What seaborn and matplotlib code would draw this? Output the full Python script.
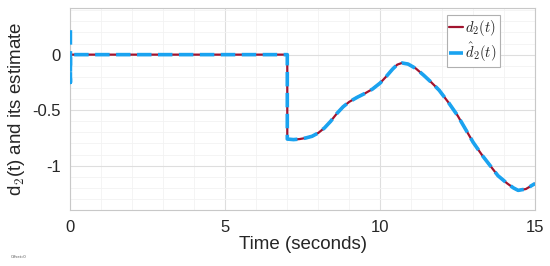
import matplotlib
matplotlib.use('Agg')
import matplotlib.pyplot as plt
import seaborn as sns
import pandas as pd
from matplotlib.ticker import MultipleLocator

# d2(t): zero until t=7, then a step and a smooth curve
t_vals = [0.0, 7.0, 7.0, 7.2, 7.4, 7.6, 7.8, 8.0, 8.2, 8.4, 8.6, 8.8, 9.0, 9.25, 9.5,
          9.75, 10.0, 10.2, 10.4, 10.55, 10.7, 10.9, 11.15, 11.4, 11.65, 11.9, 12.2,
          12.5, 12.75, 13.0, 13.3, 13.55, 13.8, 14.1, 14.3, 14.45, 14.7, 15.0]
d2_vals = [0.0, 0.0, -0.76, -0.765, -0.76, -0.75, -0.735, -0.705, -0.66, -0.6, -0.53,
           -0.47, -0.425, -0.385, -0.35, -0.31, -0.255, -0.195, -0.13, -0.09, -0.075,
           -0.085, -0.125, -0.185, -0.25, -0.32, -0.43, -0.55, -0.67, -0.79, -0.91,
           -1.0, -1.09, -1.16, -1.2, -1.222, -1.21, -1.16]

# estimate: initial transient at t=0, then follows d2
t_spike = [0.0, 0.0, 0.0]
spike_vals = [0.22, -0.25, 0.0]
t_est = t_spike + t_vals
est_vals = spike_vals + d2_vals

df_d2 = pd.DataFrame({'t': t_vals, 'v': d2_vals})
df_est = pd.DataFrame({'t': t_est, 'v': est_vals})

sns.set_style('white')
plt.rcParams['font.family'] = ['Liberation Sans', 'DejaVu Sans']
plt.rcParams['mathtext.fontset'] = 'cm'

fig, ax = plt.subplots(figsize=(5.5, 2.66), dpi=100)
fig.subplots_adjust(left=0.128, right=0.973, top=0.97, bottom=0.21)

ax.plot(df_d2['t'], df_d2['v'], color='#a2142f', linewidth=1.6, label=r'$d_2(t)$', zorder=3)
ax.plot(df_est['t'], df_est['v'], color='#1aa3f0', linewidth=2.6, linestyle=(0, (4, 1.8)),
        label=r'$\hat{d}_2(t)$', zorder=4)

ax.set_xlim(0, 15)
ax.set_ylim(-1.4, 0.42)
ax.xaxis.set_major_locator(MultipleLocator(5))
ax.xaxis.set_minor_locator(MultipleLocator(1))
ax.yaxis.set_major_locator(MultipleLocator(0.5))
ax.yaxis.set_minor_locator(MultipleLocator(0.1))
ax.set_yticks([-1, -0.5, 0])
ax.set_yticklabels(['-1', '-0.5', '0'])

ax.grid(True, which='major', color='#dedede', linewidth=0.8)
ax.grid(True, which='minor', color='#f2f2f2', linewidth=0.6)
ax.tick_params(which='both', length=0, labelsize=12, pad=7)
for sp in ax.spines.values():
    sp.set_color('#c8c8c8')
    sp.set_linewidth(0.8)

ax.set_xlabel('Time (seconds)', fontsize=13.5, labelpad=1)
ax.set_ylabel(r'd$_2$(t) and its estimate', fontsize=13.5, labelpad=4)

leg = ax.legend(loc='upper right', bbox_to_anchor=(0.924, 0.965), fontsize=10.5,
                handlelength=0.9, handletextpad=0.2, borderpad=0.2, labelspacing=0.2,
                borderaxespad=0, fancybox=False, framealpha=1, edgecolor='#b0b0b0')
leg.get_frame().set_linewidth(0.8)

fig.text(0.02, 0.03, 'Offset=0', fontsize=3, color='#555555')

fig.savefig('out.png', dpi=100)
